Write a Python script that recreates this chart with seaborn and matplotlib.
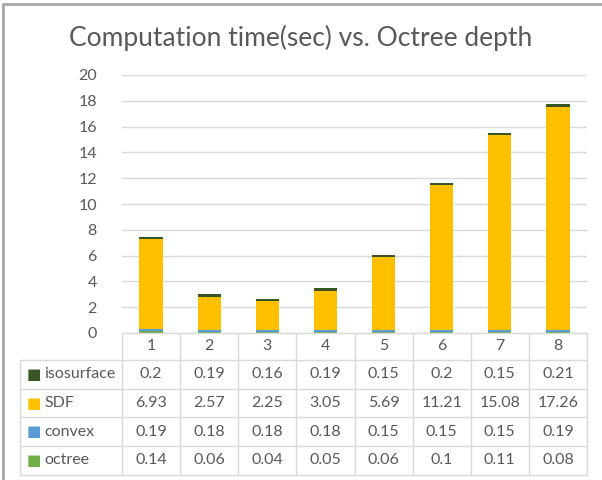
import seaborn as sns
import pandas as pd
import matplotlib.pyplot as plt
import matplotlib.transforms as mtransforms
import numpy as np

sns.set_theme(style='white')
plt.rcParams['font.family'] = ['Lato', 'DejaVu Sans']

depths = ['1', '2', '3', '4', '5', '6', '7', '8']
series = ['octree', 'convex', 'SDF', 'isosurface']
octree = [0.14, 0.06, 0.04, 0.05, 0.06, 0.1, 0.11, 0.08]
convex = [0.19, 0.18, 0.18, 0.18, 0.15, 0.15, 0.15, 0.19]
sdf = [6.93, 2.57, 2.25, 3.05, 5.69, 11.21, 15.08, 17.26]
isosurface = [0.2, 0.19, 0.16, 0.19, 0.15, 0.2, 0.15, 0.21]
colors = {'octree': '#70AD47', 'convex': '#5B9BD5', 'SDF': '#FFC000', 'isosurface': '#375623'}

df = pd.DataFrame({'depth': depths, 'octree': octree, 'convex': convex,
                   'SDF': sdf, 'isosurface': isosurface})
cum = df[series].cumsum(axis=1)

W, H = 602, 480
fig = plt.figure(figsize=(W / 100, H / 100), dpi=100)
ax_l, ax_r, ax_t, ax_b = 122, 587, 75, 333
ax = fig.add_axes([ax_l / W, 1 - ax_b / H, (ax_r - ax_l) / W, (ax_b - ax_t) / H])

text_c = '#595959'
grid_c = '#D9D9D9'
fs = 11.5

# stacked bars: draw tallest cumulative first
for s in reversed(series):
    sns.barplot(x=df['depth'], y=cum[s], color=colors[s], width=0.4,
                saturation=1, ax=ax, order=depths, linewidth=0, edgecolor='none')

ax.set_ylim(0, 20)
ax.set_xlim(-0.5, 7.5)
ax.set_yticks(np.arange(0, 21, 2))
ax.yaxis.grid(True, color=grid_c, linewidth=1)
ax.set_axisbelow(True)
for sp in ax.spines.values():
    sp.set_visible(False)
ax.set_xlabel('')
ax.set_ylabel('')
ax.set_xticks([])
ax.tick_params(axis='y', length=0, pad=18, labelsize=fs, labelcolor=text_c)

fig.text(0.5, 1 - 38 / H, 'Computation time(sec) vs. Octree depth',
         ha='center', va='center', fontsize=19, color=text_c)

# data table below the axis
tr = mtransforms.blended_transform_factory(ax.transData, fig.transFigure)
def fy(p):
    return 1 - p / H

row_y = [333, 360, 389, 417, 446, 475]
lab_x = -0.5 - (ax_l - 20) / ((ax_r - ax_l) / 8)
lw = 1

# horizontal lines
ax.plot([-0.5, 7.5], [fy(row_y[0])] * 2, transform=tr, color=grid_c, lw=lw, clip_on=False)
for yy in row_y[1:]:
    ax.plot([lab_x, 7.5], [fy(yy)] * 2, transform=tr, color=grid_c, lw=lw, clip_on=False)
# vertical lines
for i in range(9):
    ax.plot([i - 0.5] * 2, [fy(row_y[0]), fy(row_y[-1])], transform=tr,
            color=grid_c, lw=lw, clip_on=False)
ax.plot([lab_x] * 2, [fy(row_y[1]), fy(row_y[-1])], transform=tr,
        color=grid_c, lw=lw, clip_on=False)

# header
for i, d in enumerate(depths):
    ax.text(i, fy((row_y[0] + row_y[1]) / 2), d, transform=tr, ha='center',
            va='center', fontsize=fs, color=text_c)

table_rows = ['isosurface', 'SDF', 'convex', 'octree']
for r, s in enumerate(table_rows):
    yc = fy((row_y[r + 1] + row_y[r + 2]) / 2)
    ax.text(lab_x + 0.12, yc, '■', transform=tr, ha='left', va='center',
            fontsize=11, color=colors[s], family=['DejaVu Sans'])
    ax.text(lab_x + 0.42, yc, s, transform=tr, ha='left', va='center',
            fontsize=fs, color=text_c)
    for i, v in enumerate(df[s]):
        ax.text(i, yc, f'{v:g}', transform=tr, ha='center', va='center',
                fontsize=fs, color=text_c)

# outer frame of the chart area (left and top only)
fig.add_artist(plt.Line2D([3 / W, 3 / W], [0, fy(4)], color='#A6A6A6', lw=2))
fig.add_artist(plt.Line2D([3 / W, 1], [fy(4), fy(4)], color='#A6A6A6', lw=2))

fig.savefig('out.png', dpi=100)
